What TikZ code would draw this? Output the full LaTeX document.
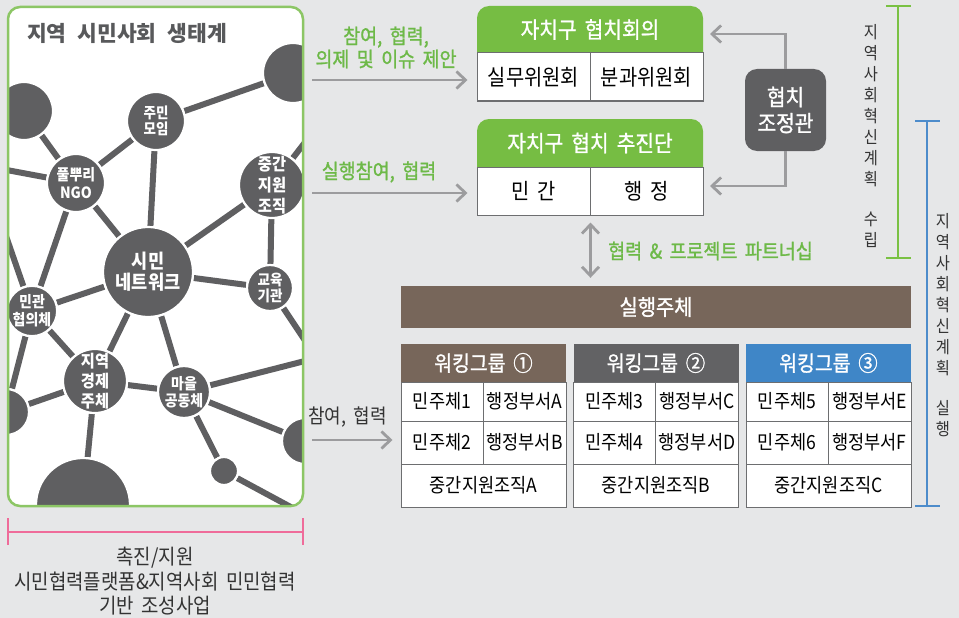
\documentclass[tikz,border=0pt]{standalone}
\usepackage{fontspec}
\setmainfont{Noto Sans CJK KR}[FakeStretch=0.9, WordSpace=1.8]
\newfontfamily\medfont{Noto Sans CJK KR}[FakeStretch=0.9, WordSpace=1.8, FakeBold=1.2]
\newfontfamily\titlefont{Noto Sans CJK KR}[WordSpace=2.2]
\usetikzlibrary{arrows.meta,calc}
\definecolor{bgc}{HTML}{E6E7E8}
\definecolor{pgreen}{HTML}{8CC665}
\definecolor{kgreen}{HTML}{76BD43}
\definecolor{tgreen}{HTML}{6DB948}
\definecolor{dgray}{HTML}{5F5F61}
\definecolor{agray}{HTML}{9C9C9E}
\definecolor{wgbrown}{HTML}{77665A}
\definecolor{wggray}{HTML}{626264}
\definecolor{kblue}{HTML}{3F86C7}
\definecolor{bgreen}{HTML}{7AC143}
\definecolor{bblue}{HTML}{4D8CCB}
\definecolor{bpink}{HTML}{EF6C9A}
\definecolor{cline}{HTML}{6D6E70}
\definecolor{txt}{HTML}{333333}
\definecolor{ttl}{HTML}{58595B}
\pgfdeclarelayer{back}
\pgfdeclarelayer{edges}
\pgfsetlayers{back,edges,main}
\newcommand{\fs}[2]{\fontsize{#1pt}{#2pt}\selectfont}
\begin{document}
\begin{tikzpicture}[x=1pt,y=-1pt,
  blob/.style={circle, fill=dgray, draw=white, line width=2.2pt, inner sep=0pt, text=white, align=center},
  edge/.style={draw=dgray, line width=6pt},
  arr/.style={draw=agray, line width=2.8pt, -{Straight Barb[length=9pt,width=17pt]}},
  dblarr/.style={draw=agray, line width=2.8pt, {Straight Barb[length=9pt,width=17pt]}-{Straight Barb[length=9pt,width=17pt]}},
  topcell/.style={draw=cline, fill=white, line width=1pt, inner sep=0pt, minimum width=113pt, minimum height=48pt, text=black, font=\fs{22}{24}},
  toph/.style={text=white, inner sep=0pt, font=\medfont\fs{22.5}{26}},
  wghead/.style={fill=#1, inner sep=0pt, minimum width=165pt, minimum height=38pt, text=white, font=\medfont\fs{21.5}{24}},
  wcell/.style={draw=cline, fill=white, line width=1pt, inner sep=0pt, text=black, font=\fs{19.5}{22}},
  glabel/.style={text=tgreen, align=center, inner sep=0pt, font=\medfont\fs{20.5}{23}},
  vtext/.style={text=txt, align=center, inner sep=0pt, anchor=north, font=\fs{17}{21}},
]
\useasboundingbox (0,0) rectangle (959,618);
\begin{pgfonlayer}{back}
  \fill[bgc] (0,0) rectangle (959,618);
  \fill[white, rounded corners=12pt] (8,7) rectangle (303,506);
\end{pgfonlayer}

% ---------- network circles ----------
\begin{scope}
  \clip[rounded corners=12pt] (8,7) rectangle (303,506);
  \node[blob, minimum size=58pt] (tl) at (24,111) {};
  \node[blob, minimum size=60pt] (tr) at (293,73) {};
  \node[blob, minimum size=58pt, font=\fs{15}{16}\bfseries] (jm) at (156,121) {주민\\모임};
  \node[blob, minimum size=58pt, font=\fs{15.5}{18}\bfseries] (ngo) at (76,183) {풀뿌리\\NGO};
  \node[blob, minimum size=66pt, font=\fs{17}{21}\bfseries] (jg) at (272,185) {중간\\지원\\조직};
  \node[blob, minimum size=90pt, font=\fs{19.5}{21}\bfseries] (sn) at (148,272) {시민\\네트워크};
  \node[blob, minimum size=46pt, font=\fs{15}{16}\bfseries] (ed) at (270,288) {교육\\기관};
  \node[blob, minimum size=50pt, font=\fs{15.5}{18}\bfseries] (mg) at (32,311) {민관\\협의체};
  \node[blob, minimum size=64pt, font=\fs{17}{20}\bfseries] (ge) at (95,381) {지역\\경제\\주체};
  \node[blob, minimum size=52pt, font=\fs{15.5}{17}\bfseries] (mc) at (184,392) {마을\\공동체};
  \node[blob, minimum size=46pt] (lb) at (6,412) {};
  \node[blob, minimum size=94pt] (bb) at (83,505) {};
  \node[blob, minimum size=46pt] (rp) at (305,441) {};
  \node[blob, minimum size=28pt] (sm) at (224,471) {};
\end{scope}
\coordinate (o1) at (-20,165);
\coordinate (o2) at (-10,190);
\coordinate (o3) at (330,110);
\coordinate (o4) at (330,378);
\coordinate (o5) at (340,352);
\coordinate (o6) at (300,512);

\begin{pgfonlayer}{edges}
\begin{scope}
  \clip[rounded corners=12pt] (8,7) rectangle (303,506);
  \draw[edge] (tl) -- (ngo);
  \draw[edge] (o1) -- (ngo);
  \draw[edge] (ngo) -- (jm);
  \draw[edge] (jm) -- (tr);
  \draw[edge] (jm) -- (sn);
  \draw[edge] (ngo) -- (sn);
  \draw[edge] (ngo) -- (mg);
  \draw[edge] (o2) -- (mg);
  \draw[edge] (jg) -- (sn);
  \draw[edge] (jg) -- (ed);
  \draw[edge] (jg) -- (o3);
  \draw[edge] (sn) -- (ed);
  \draw[edge] (sn) -- (mg);
  \draw[edge] (sn) -- (ge);
  \draw[edge] (sn) -- (mc);
  \draw[edge] (ed) -- (o4);
  \draw[edge] (mg) -- (ge);
  \draw[edge] (mg) -- (lb);
  \draw[edge] (ge) -- (lb);
  \draw[edge] (ge) -- (mc);
  \draw[edge] (ge) -- (bb);
  \draw[edge] (mc) -- (o5);
  \draw[edge] (mc) -- (rp);
  \draw[edge] (mc) -- (sm);
  \draw[edge] (sm) -- (o6);
\end{scope}
\end{pgfonlayer}

\draw[pgreen, line width=2.5pt, rounded corners=12pt] (8,7) rectangle (303,506);
\node[anchor=west, inner sep=0pt, text=ttl, font=\titlefont\fs{21.5}{24}\bfseries] (title) at (27,33) {지역 시민사회 생태계};

% ---------- top boxes ----------
\fill[kgreen] (477,53) [rounded corners=12pt] -- (477,6) -- (703,6) [sharp corners] -- (703,53) -- cycle;
\fill[kgreen] (477,167) [rounded corners=12pt] -- (477,119) -- (703,119) [sharp corners] -- (703,167) -- cycle;
\node[toph] (b1h) at (590,29.5) {자치구 협치회의};
\node[toph] (b2h) at (590,143) {자치구 협치 추진단};
\node[topcell] (b1a) at (533.5,77) {실무위원회};
\node[topcell] (b1b) at (646.5,77) {분과위원회};
\node[topcell] (b2a) at (533.5,191) {민 간};
\node[topcell] (b2b) at (646.5,191) {행 정};

% arrows from network
\coordinate (a1s) at (312,80);
\coordinate (a2s) at (312,193);
\coordinate (a3s) at (312,440);
\draw[arr, shorten >=9pt] (a1s) -- (a1s -| b1a.west);
\draw[arr, shorten >=9pt] (a2s) -- (a2s -| b2a.west);
\node[glabel] (l1) at (386,47.5) {참여, 협력,\\의제 및 이슈 제안};
\node[glabel] (l2) at (379,172) {실행참여, 협력};

% coordinator
\node[fill=dgray, rounded corners=12pt, minimum width=81pt, minimum height=82pt, inner sep=0pt,
      text=white, align=center, font=\medfont\fs{22.5}{26}] (coord) at (785.5,110) {협치\\조정관};
\coordinate (c1e) at (703,34);
\coordinate (c2e) at (703,186);
\draw[arr, shorten >=7pt] (coord.north) |- (c1e);
\draw[arr, shorten >=7pt] (coord.south) |- (c2e);

% executing body bar
\node[fill=wgbrown, minimum width=510pt, minimum height=42pt, inner sep=0pt, text=white, font=\medfont\fs{22}{24}] (bar) at (656,307) {실행주체};
\draw[dblarr, shorten <=7pt, shorten >=8pt] (b2a.south east) -- (b2a.south east |- bar.north);
\node[glabel, anchor=west] (l3) at (608,251) {협력 \& 프로젝트 파트너십};

% working groups
\foreach \gx/\gc/\gn/\pa/\pb/\sa/\sb/\md [count=\i] in
  {401/wgbrown/①/1/2/A/B/A, 573.5/wggray/②/3/4/C/D/B, 746/kblue/③/5/6/E/F/C}{
  \node[wghead=\gc] (wg\i h) at (\gx+82.5,363) {워킹그룹 \gn};
  \node[wcell, minimum width=82pt, minimum height=39pt] (wg\i a) at (\gx+41,401.5) {민주체\pa};
  \node[wcell, minimum width=83pt, minimum height=39pt] (wg\i b) at (\gx+123.5,401.5) {행정부서\sa};
  \node[wcell, minimum width=82pt, minimum height=43pt] (wg\i c) at (\gx+41,442.5) {민주체\pb};
  \node[wcell, minimum width=83pt, minimum height=43pt] (wg\i d) at (\gx+123.5,442.5) {행정부서\sb};
  \node[wcell, minimum width=165pt, minimum height=43pt] (wg\i e) at (\gx+82.5,485.5) {중간지원조직\md};
}
\draw[arr, shorten >=8pt] (a3s) -- (a3s -| wg1c.west);
\node[anchor=west, inner sep=0pt, text=txt, font=\fs{20}{22}] (l4) at (308,417) {참여, 협력};

% brackets
\draw[bgreen, line width=2.5pt] (898,6) -- (898,258);
\draw[bgreen, line width=2.5pt] (886,6) -- (911,6);
\draw[bgreen, line width=2.5pt] (886,258) -- (911,258);
\node[vtext] (v1) at (871,24) {지\\역\\사\\회\\혁\\신\\계\\획\\[19pt]수\\립};
\draw[bblue, line width=2.5pt] (927,121) -- (927,506);
\draw[bblue, line width=2.5pt] (915,121) -- (940,121);
\draw[bblue, line width=2.5pt] (915,506) -- (940,506);
\node[vtext] (v2) at (943,213) {지\\역\\사\\회\\혁\\신\\계\\획\\[19pt]실\\행};
\draw[bpink, line width=2.5pt] (8,532) -- (303,532);
\draw[bpink, line width=2.5pt] (8,518) -- (8,545);
\draw[bpink, line width=2.5pt] (303,518) -- (303,545);
\node[anchor=north, align=center, inner sep=0pt, text=txt, font=\fs{21}{24.5}] (bt) at (155,547) {촉진/지원\\시민협력플랫폼\&지역사회 민민협력\\기반 조성사업};
\end{tikzpicture}
\end{document}
